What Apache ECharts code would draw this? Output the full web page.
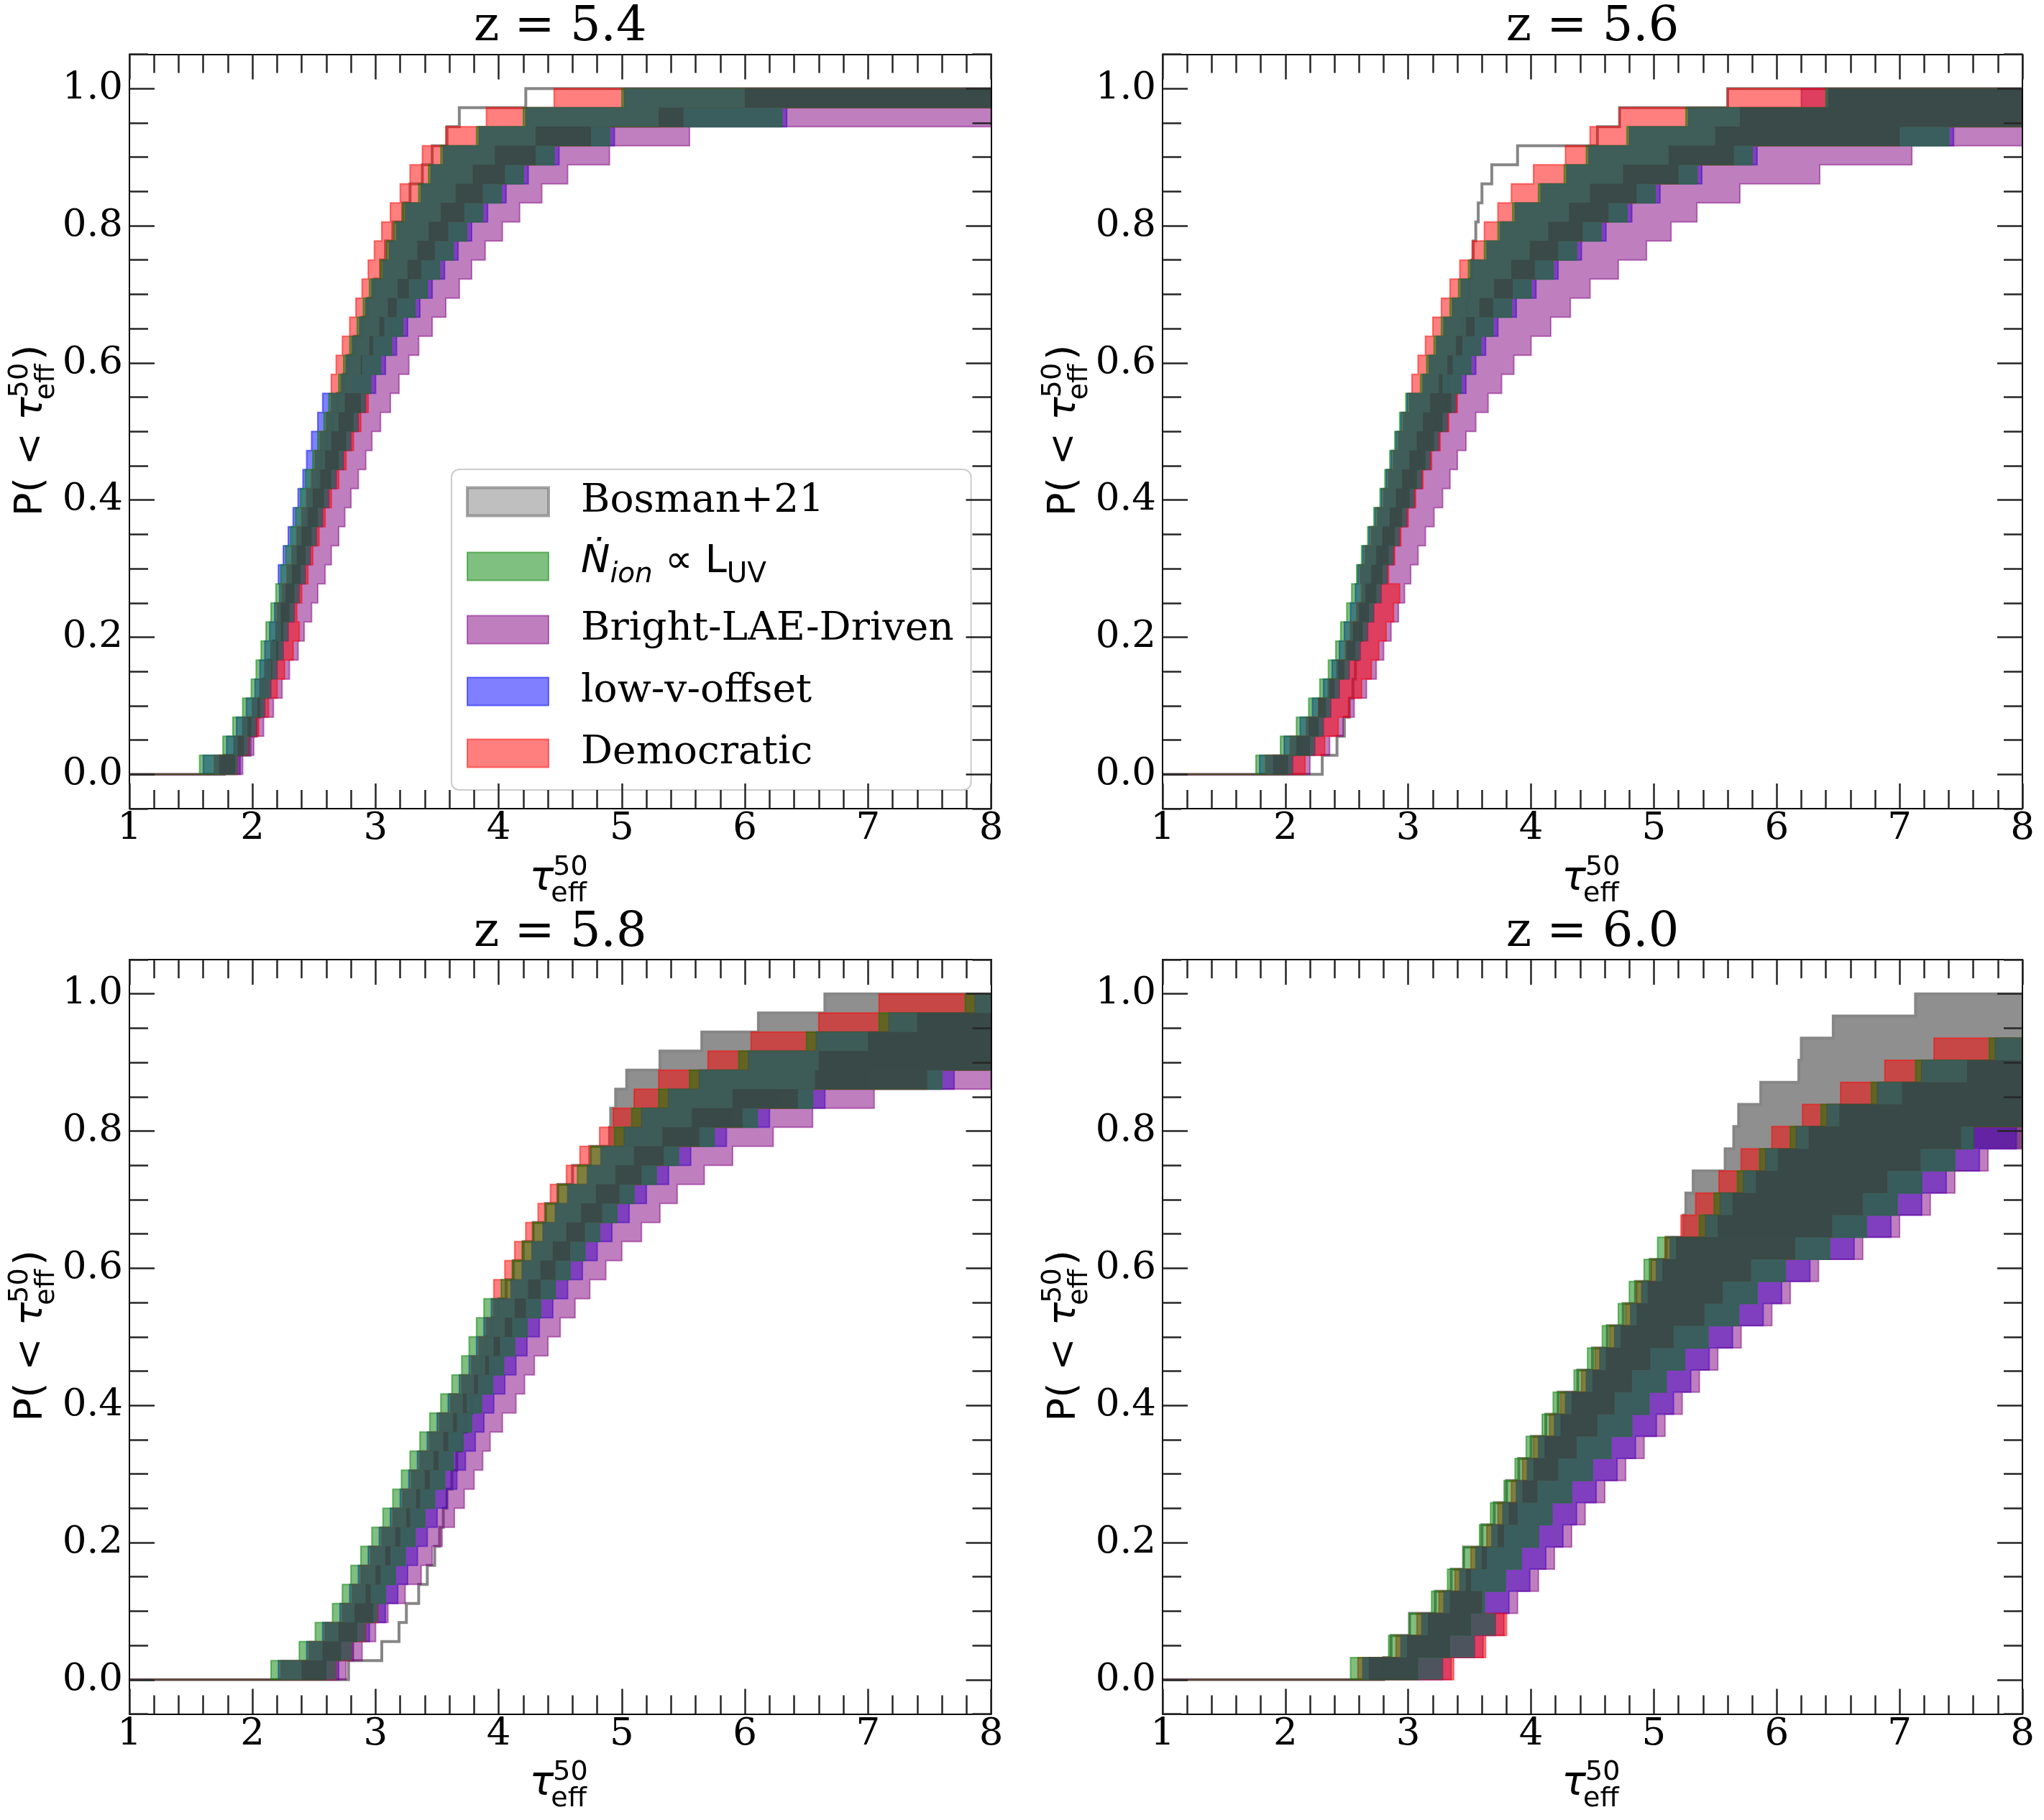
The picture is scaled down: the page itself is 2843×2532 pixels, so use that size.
<!DOCTYPE html>
<html>
<head>
<meta charset="utf-8">
<script src="https://cdn.jsdelivr.net/npm/echarts@6/dist/echarts.min.js"></script>
<style>
  html, body { margin: 0; padding: 0; background: #fff; }
  #chart { width: 2843px; height: 2532px; }
</style>
</head>
<body>
<div id="chart"></div>
<script>
// ---- data: tau_eff^50 where each CDF row starts / ends (row k spans P = k/N .. (k+1)/N) ----
// values > 8 mean "off the right edge of the axis"
const panelTitles = ['z = 5.4', 'z = 5.6', 'z = 5.8', 'z = 6.0'];
const modelNames = ['Bosman+21', 'Ṅion ∝ LUV', 'Bright-LAE-Driven', 'low-v-offset', 'Democratic'];
const xTicks = [1, 2, 3, 4, 5, 6, 7, 8];
const yMajorTicks = [0, 0.2, 0.4, 0.6, 0.8, 1.0];

// z = 5.4 (36 rows)
const z54BosmanUpper = [1.77,1.98,2.03,2.06,2.09,2.13,2.17,2.21,2.25,2.29,2.33,2.37,2.41,2.45,2.49,2.53,2.56,2.60,2.65,2.69,2.74,2.78,2.83,2.89,2.94,2.99,3.04,3.08,3.14,3.22,3.28,3.38,3.46,3.58,3.68,4.22];
const z54BosmanLower = z54BosmanUpper;
const z54GreenL = [1.57,1.76,1.84,1.92,1.99,2.03,2.07,2.11,2.15,2.19,2.23,2.27,2.31,2.35,2.39,2.43,2.49,2.53,2.58,2.62,2.70,2.74,2.79,2.85,2.90,2.95,3.04,3.09,3.15,3.22,3.35,3.43,3.53,3.82,4.20,5.00];
const z54GreenR = [1.86,1.93,1.99,2.06,2.11,2.16,2.21,2.25,2.30,2.34,2.39,2.43,2.48,2.53,2.58,2.64,2.70,2.76,2.82,2.88,2.96,3.04,3.13,3.22,3.32,3.42,3.52,3.63,3.74,3.87,4.02,4.20,4.45,4.90,6.30,9];
const z54BlueL = [1.60,1.79,1.87,1.95,2.02,2.06,2.10,2.14,2.18,2.22,2.21,2.25,2.29,2.33,2.37,2.41,2.44,2.48,2.53,2.57,2.72,2.76,2.81,2.87,2.92,2.97,3.06,3.11,3.17,3.24,3.37,3.45,3.55,3.84,4.22,5.02];
const z54BlueR = [1.90,1.97,2.03,2.10,2.15,2.20,2.25,2.29,2.34,2.38,2.43,2.47,2.52,2.57,2.62,2.68,2.74,2.80,2.86,2.92,3.00,3.08,3.17,3.26,3.36,3.46,3.56,3.67,3.78,3.91,4.06,4.24,4.49,4.94,6.34,9];
const z54RedL = [1.69,1.88,1.96,2.04,2.11,2.15,2.19,2.23,2.20,2.24,2.28,2.32,2.36,2.40,2.44,2.48,2.51,2.55,2.60,2.64,2.64,2.68,2.73,2.79,2.84,2.89,2.94,2.99,3.05,3.12,3.20,3.28,3.38,3.57,3.90,4.45];
const z54RedR = [1.88,1.97,2.05,2.13,2.20,2.26,2.33,2.38,2.36,2.40,2.45,2.49,2.54,2.59,2.64,2.70,2.76,2.82,2.88,2.94,2.81,2.89,2.98,3.07,3.17,3.27,3.37,3.48,3.59,3.72,3.87,4.05,4.30,4.75,5.50,9];
const z54PurpleL = [1.73,1.85,1.92,2.00,2.06,2.10,2.15,2.19,2.23,2.27,2.32,2.36,2.40,2.45,2.49,2.55,2.59,2.64,2.70,2.75,2.82,2.88,2.95,3.03,3.10,3.18,3.26,3.34,3.43,3.53,3.65,3.79,3.97,4.30,5.30,6.00];
const z54PurpleR = [1.92,2.01,2.09,2.17,2.24,2.30,2.37,2.42,2.48,2.53,2.59,2.64,2.70,2.75,2.80,2.86,2.92,2.97,3.04,3.12,3.19,3.27,3.35,3.46,3.57,3.68,3.78,3.89,4.03,4.17,4.35,4.56,4.90,5.55,9,9];

// z = 5.6 (36 rows)
const z56BosmanUpper = [2.30,2.42,2.48,2.52,2.55,2.57,2.59,2.61,2.63,2.69,2.74,2.79,2.84,2.90,2.96,3.02,3.09,3.16,3.23,3.30,3.32,3.36,3.40,3.44,3.48,3.50,3.52,3.53,3.55,3.57,3.60,3.68,3.89,4.54,4.72,5.60];
const z56BosmanLower = z56BosmanUpper;
const z56GreenL = [1.76,1.96,2.09,2.19,2.28,2.35,2.41,2.45,2.50,2.54,2.58,2.62,2.67,2.72,2.77,2.81,2.85,2.89,2.93,2.98,3.10,3.15,3.21,3.27,3.34,3.41,3.49,3.62,3.73,3.85,4.06,4.27,4.45,4.78,5.26,6.40];
const z56GreenR = [2.02,2.20,2.27,2.33,2.40,2.48,2.57,2.63,2.68,2.74,2.79,2.84,2.89,2.95,3.01,3.07,3.14,3.21,3.28,3.35,3.43,3.51,3.59,3.69,3.84,4.00,4.18,4.37,4.57,4.78,5.01,5.35,5.80,7.40,9,9];
const z56BlueL = [1.79,1.99,2.12,2.22,2.31,2.38,2.44,2.48,2.53,2.57,2.59,2.63,2.68,2.73,2.78,2.82,2.86,2.90,2.94,2.99,3.12,3.17,3.23,3.29,3.36,3.43,3.51,3.64,3.75,3.87,4.08,4.29,4.47,4.80,5.28,6.42];
const z56BlueR = [2.06,2.24,2.31,2.37,2.44,2.52,2.61,2.67,2.72,2.78,2.83,2.88,2.93,2.99,3.05,3.11,3.18,3.25,3.32,3.39,3.47,3.55,3.63,3.73,3.88,4.04,4.22,4.41,4.61,4.82,5.05,5.39,5.84,7.44,9,9];
const z56RedL = [1.84,2.04,2.17,2.27,2.36,2.43,2.49,2.53,2.58,2.62,2.61,2.65,2.70,2.75,2.80,2.84,2.88,2.92,2.96,3.01,3.03,3.08,3.14,3.20,3.27,3.34,3.42,3.52,3.62,3.73,3.84,4.02,4.28,4.48,4.72,5.60];
const z56RedR = [2.16,2.32,2.43,2.52,2.62,2.70,2.76,2.82,2.88,2.93,2.84,2.89,2.94,3.00,3.06,3.12,3.19,3.26,3.33,3.40,3.28,3.36,3.44,3.54,3.69,3.85,4.03,4.22,4.42,4.63,4.86,5.20,5.65,7.00,9,9];
const z56PurpleL = [1.90,2.09,2.19,2.27,2.35,2.42,2.50,2.55,2.60,2.65,2.70,2.74,2.79,2.85,2.90,2.95,3.01,3.07,3.12,3.18,3.25,3.32,3.39,3.47,3.58,3.70,3.84,3.99,4.14,4.31,4.48,4.75,5.12,5.50,5.70,6.20];
const z56PurpleR = [2.20,2.36,2.47,2.56,2.66,2.74,2.80,2.86,2.92,2.97,3.02,3.08,3.14,3.21,3.28,3.34,3.40,3.47,3.55,3.65,3.76,3.86,4.00,4.16,4.32,4.48,4.71,4.94,5.14,5.35,5.70,6.35,7.10,9,9,9];

// z = 5.8 (36 rows)
const z58BosmanUpper = [2.78,3.05,3.19,3.25,3.35,3.42,3.48,3.52,3.55,3.58,3.62,3.66,3.70,3.74,3.78,3.82,3.86,3.90,3.95,4.00,4.06,4.12,4.20,4.28,4.38,4.48,4.60,4.74,4.90,4.91,4.95,5.04,5.31,5.65,6.11,6.65];
const z58BosmanLower = [2.78,3.05,3.19,3.25,3.35,3.42,3.48,3.52,3.55,3.58,3.62,3.66,3.70,3.74,3.78,3.82,3.86,3.90,3.95,4.00,4.06,4.12,4.20,4.28,4.38,4.48,4.60,4.74,5.60,5.90,6.30,7.00,9,9,9,9];
const z58GreenL = [2.15,2.38,2.51,2.65,2.73,2.80,2.88,2.97,3.06,3.14,3.21,3.28,3.36,3.44,3.53,3.62,3.70,3.76,3.82,3.88,4.02,4.11,4.19,4.28,4.38,4.48,4.64,4.75,4.94,5.08,5.30,5.55,5.95,6.50,7.09,7.79];
const z58GreenR = [2.60,2.72,2.85,2.98,3.08,3.16,3.24,3.32,3.40,3.48,3.56,3.63,3.71,3.78,3.86,3.95,4.04,4.13,4.23,4.34,4.46,4.58,4.70,4.82,4.96,5.10,5.28,5.46,5.75,6.10,6.55,7.60,9,9,9,9];
const z58BlueL = [2.21,2.44,2.57,2.71,2.79,2.86,2.94,3.03,3.12,3.20,3.27,3.34,3.42,3.50,3.59,3.68,3.76,3.82,3.88,3.94,4.10,4.19,4.27,4.36,4.46,4.56,4.72,4.83,5.02,5.16,5.38,5.63,6.03,6.58,7.17,7.87];
const z58BlueR = [2.70,2.82,2.95,3.08,3.18,3.26,3.34,3.42,3.50,3.58,3.66,3.73,3.81,3.88,3.96,4.05,4.14,4.23,4.33,4.44,4.56,4.68,4.80,4.92,5.06,5.20,5.38,5.56,5.85,6.20,6.65,7.70,9,9,9,9];
const z58RedL = [2.23,2.46,2.59,2.73,2.81,2.88,2.96,3.05,3.14,3.22,3.29,3.36,3.44,3.52,3.61,3.70,3.78,3.84,3.90,3.96,3.96,4.05,4.13,4.22,4.32,4.42,4.55,4.66,4.82,4.93,5.10,5.30,5.70,6.05,6.60,7.09];
const z58RedR = [2.68,2.81,2.92,3.02,2.96,3.04,3.12,3.20,3.28,3.36,3.44,3.51,3.59,3.66,3.74,3.83,3.92,4.01,4.11,4.22,4.34,4.46,4.58,4.70,4.84,4.98,5.16,5.34,5.63,5.98,6.43,7.48,9,9,9,9];
const z58PurpleL = [2.40,2.57,2.70,2.83,2.92,3.00,3.08,3.16,3.25,3.33,3.40,3.47,3.55,3.63,3.71,3.80,3.89,3.96,4.05,4.13,4.24,4.34,4.44,4.55,4.67,4.79,4.95,5.10,5.33,5.57,5.90,6.57,6.60,7.00,7.40,8.50];
const z58PurpleR = [2.76,2.89,3.00,3.10,3.24,3.37,3.46,3.54,3.64,3.72,3.80,3.87,3.93,4.03,4.14,4.21,4.29,4.40,4.50,4.62,4.74,4.87,5.00,5.16,5.31,5.45,5.67,5.90,6.23,6.55,7.05,9,9,9,9,9];

// z = 6.0 (31 rows)
const z60BosmanUpper = [2.80,2.86,3.01,3.22,3.35,3.45,3.60,3.70,3.80,3.90,4.00,4.12,4.22,4.38,4.50,4.62,4.75,4.85,4.97,5.10,5.24,5.26,5.32,5.58,5.65,5.69,5.87,6.18,6.20,6.46,7.13];
const z60BosmanLower = [2.80,2.86,3.01,3.22,3.35,3.45,3.60,3.70,3.80,3.90,4.00,4.12,4.22,4.38,4.50,4.62,4.75,4.85,4.97,5.10,6.73,6.98,7.18,7.45,9,9,9,9,9,9,9];
const z60GreenL = [2.53,2.84,3.01,3.19,3.32,3.45,3.58,3.67,3.78,3.87,3.96,4.09,4.18,4.35,4.46,4.58,4.71,4.80,4.92,5.03,5.37,5.49,5.68,5.86,6.11,6.36,6.77,7.13,7.73,9,9];
const z60GreenR = [3.08,3.34,3.51,3.62,3.79,3.92,4.06,4.17,4.33,4.50,4.65,4.82,4.96,5.10,5.25,5.44,5.69,5.84,6.07,6.43,6.73,6.98,7.18,7.45,7.60,9,9,9,9,9,9];
const z60BlueL = [2.63,2.94,3.11,3.29,3.42,3.55,3.68,3.77,3.88,3.97,4.06,4.19,4.28,4.45,4.56,4.68,4.81,4.90,5.02,5.13,5.42,5.54,5.73,5.91,6.16,6.41,6.82,7.18,7.78,9,9];
const z60BlueR = [3.28,3.54,3.71,3.82,3.99,4.12,4.26,4.37,4.53,4.70,4.85,5.02,5.16,5.30,5.45,5.64,5.89,6.04,6.27,6.63,6.93,7.18,7.38,7.65,7.95,9,9,9,9,9,9];
const z60RedL = [2.59,2.90,3.07,3.25,3.38,3.51,3.64,3.73,3.84,3.93,4.02,4.15,4.24,4.41,4.52,4.64,4.77,4.86,4.98,5.09,5.22,5.34,5.53,5.71,5.96,6.21,6.52,6.88,7.28,9,9];
const z60RedR = [3.37,3.63,3.80,3.60,3.51,3.64,3.78,3.89,4.05,4.22,4.37,4.54,4.68,4.82,4.97,5.16,5.41,5.56,5.79,6.15,6.45,6.70,6.90,7.17,7.50,9,9,9,9,9,9];
const z60PurpleL = [2.68,2.99,3.16,3.34,3.47,3.60,3.73,3.82,3.93,4.02,4.11,4.24,4.33,4.50,4.61,4.73,4.86,4.95,5.07,5.18,5.52,5.64,5.83,6.01,6.26,6.51,7.02,7.55,9,9,9];
const z60PurpleR = [3.35,3.61,3.78,3.89,4.06,4.19,4.33,4.44,4.60,4.77,4.92,5.09,5.23,5.37,5.52,5.71,5.96,6.11,6.34,6.70,7.00,7.25,7.45,7.72,9,9,9,9,9,9,9];

// ---- table built from the arrays above ----
const panels = [
  { title: panelTitles[0], bosman: [z54BosmanUpper, z54BosmanLower], green: [z54GreenL, z54GreenR], purple: [z54PurpleL, z54PurpleR], blue: [z54BlueL, z54BlueR], red: [z54RedL, z54RedR] },
  { title: panelTitles[1], bosman: [z56BosmanUpper, z56BosmanLower], green: [z56GreenL, z56GreenR], purple: [z56PurpleL, z56PurpleR], blue: [z56BlueL, z56BlueR], red: [z56RedL, z56RedR] },
  { title: panelTitles[2], bosman: [z58BosmanUpper, z58BosmanLower], green: [z58GreenL, z58GreenR], purple: [z58PurpleL, z58PurpleR], blue: [z58BlueL, z58BlueR], red: [z58RedL, z58RedR] },
  { title: panelTitles[3], bosman: [z60BosmanUpper, z60BosmanLower], green: [z60GreenL, z60GreenR], purple: [z60PurpleL, z60PurpleR], blue: [z60BlueL, z60BlueR], red: [z60RedL, z60RedR] }
];

const serif = '"DejaVu Serif", serif';
const sans = '"DejaVu Sans", sans-serif';
const colors = {
  green: 'rgba(0,128,0,0.5)',
  purple: 'rgba(128,0,128,0.5)',
  blue: 'rgba(0,0,255,0.5)',
  red: 'rgba(255,0,0,0.5)',
  grayFill: 'rgba(128,128,128,0.88)',
  grayLine: '#868686',
  overlap3: 'rgba(58,94,94,0.85)',
  overlap4: 'rgba(50,50,52,0.42)'
};

const gridBoxes = [
  { left: 180, top: 75.5, width: 1198.5, height: 1049.5 },
  { left: 1617, top: 75.5, width: 1196, height: 1049.5 },
  { left: 180, top: 1335, width: 1198.5, height: 1049.5 },
  { left: 1617, top: 1335, width: 1196, height: 1049.5 }
];

const xMin = xTicks[0], xMax = xTicks[xTicks.length - 1];
const clampX = v => Math.max(xMin, Math.min(xMax, v));

// staircase polygons (data coords) for a band given row-wise left/right edges
function stepRuns(L, R, baseline) {
  const N = L.length, runs = [];
  const ok = k => clampX(R[k]) - clampX(L[k]) > 1e-9;
  let k = 0;
  while (k < N) {
    if (!ok(k)) { k++; continue; }
    const a = k;
    while (k < N && ok(k)) k++;
    const b = k - 1, pts = [];
    if (baseline && a === 0) pts.push([xMin, 0]);
    for (let i = a; i <= b; i++) { const x = clampX(L[i]); pts.push([x, i / N], [x, (i + 1) / N]); }
    for (let i = b; i >= a; i--) { const x = clampX(R[i]); pts.push([x, (i + 1) / N], [x, i / N]); }
    if (baseline && a === 0) pts.push([xMin, 0]);
    runs.push(pts);
  }
  return runs;
}

// ECDF staircase line
function stepLine(L) {
  const N = L.length, pts = [[xMin, 0]];
  for (let i = 0; i < N; i++) { const x = clampX(L[i]); pts.push([x, i / N], [x, (i + 1) / N]); }
  pts.push([xMax, 1]);
  return pts;
}

// rows where at least `rank` of the model bands overlap
function coverageRows(bands, rank) {
  const N = bands[0][0].length, L = [], R = [];
  for (let k = 0; k < N; k++) {
    const ls = bands.map(b => b[0][k]).sort((a, b) => a - b);
    const rs = bands.map(b => b[1][k]).sort((a, b) => b - a);
    L.push(ls[rank - 1]); R.push(rs[rank - 1]);
  }
  return [L, R];
}

function bandSeries(gi, name, band, fill, stroke, lw, baseline) {
  return {
    type: 'custom', name, coordinateSystem: 'cartesian2d',
    xAxisIndex: gi * 2, yAxisIndex: gi * 4, silent: true, animation: false,
    itemStyle: { color: fill }, data: [[1, 0]],
    renderItem: (params, api) => ({
      type: 'group',
      children: stepRuns(band[0], band[1], baseline).map(run => ({
        type: 'polygon',
        shape: { points: run.map(p => api.coord(p)) },
        style: { fill, stroke: stroke || null, lineWidth: lw || 0 }
      }))
    })
  };
}

function bosmanSeries(gi, band) {
  return {
    type: 'custom', name: modelNames[0], coordinateSystem: 'cartesian2d',
    xAxisIndex: gi * 2, yAxisIndex: gi * 4, silent: true, animation: false,
    itemStyle: { color: colors.grayFill }, data: [[1, 0]],
    renderItem: (params, api) => {
      const kids = stepRuns(band[0], band[1], false).map(run => ({
        type: 'polygon', shape: { points: run.map(p => api.coord(p)) },
        style: { fill: colors.grayFill, stroke: null }
      }));
      kids.push({
        type: 'polyline', shape: { points: stepLine(band[0]).map(p => api.coord(p)) },
        style: { fill: null, stroke: colors.grayLine, lineWidth: 4 }
      });
      return { type: 'group', children: kids };
    }
  };
}

const series = [];
panels.forEach((p, gi) => {
  series.push(bosmanSeries(gi, p.bosman));
  series.push(bandSeries(gi, modelNames[3], p.blue, colors.blue, colors.blue, 2, true));
  series.push(bandSeries(gi, modelNames[2], p.purple, colors.purple, colors.purple, 2, true));
  series.push(bandSeries(gi, modelNames[4], p.red, colors.red, colors.red, 2, true));
  series.push(bandSeries(gi, modelNames[1], p.green, colors.green, colors.green, 2, true));
  const bands = [p.green, p.purple, p.blue, p.red];
  series.push(bandSeries(gi, 'overlap3', coverageRows(bands, 3), colors.overlap3, null, 0, false));
  series.push(bandSeries(gi, 'overlap4', coverageRows(bands, 4), colors.overlap4, null, 0, false));
});

// ---- axes ----
const tickStyle = { color: '#262626', width: 2.5 };
const xAxes = [], yAxes = [];
gridBoxes.forEach((g, gi) => {
  const xb = {
    gridIndex: gi, type: 'value', min: xMin, max: xMax, interval: 1, z: 10,
    axisLine: { show: true, onZero: false, lineStyle: { color: '#000', width: 2 } },
    axisTick: { show: true, inside: true, length: 35, lineStyle: tickStyle },
    minorTick: { show: true, splitNumber: 5, length: 26, lineStyle: tickStyle },
    splitLine: { show: false }, minorSplitLine: { show: false }
  };
  xAxes.push(Object.assign({}, xb, { position: 'bottom',
    axisLabel: { show: true, fontFamily: serif, fontSize: 53, color: '#000', margin: 2 } }));
  xAxes.push(Object.assign({}, xb, { position: 'top', axisLabel: { show: false } }));

  const major = {
    gridIndex: gi, type: 'value', min: -0.05, max: 1.05, z: 10, splitLine: { show: false },
    axisLine: { show: true, onZero: false, lineStyle: { color: '#000', width: 2 } },
    axisTick: { show: true, inside: true, length: 35, lineStyle: tickStyle, customValues: yMajorTicks }
  };
  const minor = {
    gridIndex: gi, type: 'value', min: -0.05, max: 1.05, interval: 0.05, z: 10, splitLine: { show: false },
    axisLine: { show: false, onZero: false }, axisLabel: { show: false },
    axisTick: { show: true, inside: true, length: 26, lineStyle: tickStyle }
  };
  yAxes.push(Object.assign({}, major, { position: 'left',
    axisLabel: { show: true, customValues: yMajorTicks, formatter: v => v.toFixed(1),
      fontFamily: serif, fontSize: 53, color: '#000', margin: 9 } }));
  yAxes.push(Object.assign({}, minor, { position: 'left' }));
  yAxes.push(Object.assign({}, major, { position: 'right', axisLabel: { show: false } }));
  yAxes.push(Object.assign({}, minor, { position: 'right' }));
});

// ---- axis titles (tau with stacked super/subscript) ----
const mctx = document.createElement('canvas').getContext('2d');
function textW(font, s) { mctx.font = font; return mctx.measureText(s).width; }
function mathLabel(prefix, suffix, size) {
  const small = 38;
  const w1 = prefix ? textW(size + 'px "DejaVu Sans"', prefix) : 0;
  const w2 = textW('italic ' + size + 'px "DejaVu Sans"', 'τ');
  const w3 = Math.max(textW(small + 'px "DejaVu Sans"', '50'), textW(small + 'px "DejaVu Sans"', 'eff'));
  const w4 = suffix ? textW(size + 'px "DejaVu Sans"', suffix) : 0;
  const total = w1 + w2 + w3 + w4 + 2;
  const txt = (s, x, y, fs, italic) => ({
    type: 'text', x, y, silent: true,
    style: { text: s, fontFamily: sans, fontSize: fs, fontStyle: italic ? 'italic' : 'normal', fill: '#000',
      align: 'left', verticalAlign: 'middle', textAlign: 'left', textVerticalAlign: 'middle' }
  });
  let x = -total / 2;
  const kids = [];
  if (prefix) { kids.push(txt(prefix, x, 0, size)); x += w1; }
  kids.push(txt('τ', x, 0, size, true)); x += w2 - 1;
  kids.push(txt('50', x, -16, small));
  kids.push(txt('eff', x - 3, 21, small));
  x += w3 + 3;
  if (suffix) kids.push(txt(suffix, x, 0, size));
  return kids;
}

const graphic = [];
gridBoxes.forEach(g => {
  graphic.push({ type: 'group', x: g.left + g.width / 2, y: g.top + g.height + 98, z: 20,
    children: mathLabel(null, null, 56) });
  graphic.push({ type: 'group', x: g.left - 136, y: g.top + g.height / 2 - 1.5, rotation: Math.PI / 2, z: 20,
    children: mathLabel('P( < ', ')', 54) });
});

// ---- titles ----
const titles = gridBoxes.map((g, gi) => ({
  text: panels[gi].title, left: g.left + g.width / 2, top: g.top - 70, textAlign: 'center', padding: 0,
  textStyle: { fontFamily: serif, fontSize: 67, fontWeight: 'normal', color: '#000', lineHeight: 67 }
}));

// ---- legend ----
const legendColors = ['rgba(128,128,128,0.5)', colors.green, colors.purple, colors.blue, colors.red];
const legend = {
  show: true, orient: 'vertical', left: 628, top: 653, padding: [16, 24, 22, 20],
  itemWidth: 113, itemHeight: 39, itemGap: 28, selectedMode: false,
  backgroundColor: 'rgba(255,255,255,0.8)', borderColor: '#cccccc', borderWidth: 2, borderRadius: 11,
  textStyle: {
    fontFamily: serif, fontSize: 55, color: '#000', lineHeight: 58, padding: [0, 0, 0, 40],
    rich: {
      ni: { fontFamily: sans, fontStyle: 'italic', fontSize: 54, verticalAlign: 'bottom', lineHeight: 62, padding: [0, 0, 10, 0] },
      ns: { fontFamily: sans, fontStyle: 'italic', fontSize: 39, verticalAlign: 'bottom', lineHeight: 40 },
      nt: { fontFamily: sans, fontSize: 54, verticalAlign: 'bottom', lineHeight: 62, padding: [0, 0, 10, 0] },
      nu: { fontFamily: sans, fontSize: 39, verticalAlign: 'bottom', lineHeight: 40 }
    }
  },
  formatter: name => name === modelNames[1] ? '{ni|Ṅ}{ns|ion}{nt| ∝ L}{nu|UV}' : name,
  data: modelNames.map((n, i) => ({
    name: n, icon: 'rect',
    itemStyle: { color: legendColors[i], borderColor: i === 0 ? 'rgba(128,128,128,0.7)' : legendColors[i], borderWidth: i === 0 ? 4 : 2 }
  }))
};

const chart = echarts.init(document.getElementById('chart'), null, { renderer: 'canvas' });
chart.setOption({
  animation: false,
  backgroundColor: '#fff',
  textStyle: { fontFamily: serif },
  title: titles,
  legend,
  grid: gridBoxes.map(g => Object.assign({ containLabel: false, show: false }, g)),
  xAxis: xAxes,
  yAxis: yAxes,
  series,
  graphic
});
</script>
</body>
</html>
